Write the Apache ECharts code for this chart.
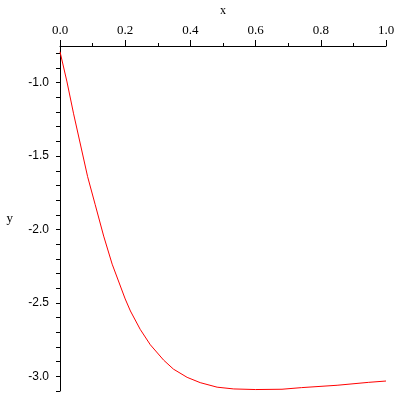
<!DOCTYPE html>
<html><head><meta charset="utf-8">
<script src="https://cdn.jsdelivr.net/npm/echarts@6/dist/echarts.min.js"></script>
<style>html,body{margin:0;padding:0;background:#fff}#c{width:400px;height:400px}</style>
</head><body><div id="c"></div>
<script>
const xValues = [0, 0.0215, 0.0417, 0.0847, 0.108, 0.134, 0.160, 0.200, 0.216, 0.246, 0.277, 0.318, 0.348, 0.390, 0.430, 0.482, 0.533, 0.6, 0.681, 0.741, 0.85, 0.947, 1.0];
const yValues = [-0.789, -0.995, -1.212, -1.640, -1.831, -2.045, -2.236, -2.473, -2.555, -2.680, -2.785, -2.890, -2.951, -3.007, -3.043, -3.074, -3.086, -3.09, -3.088, -3.077, -3.061, -3.041, -3.032];
const xTickLabels = [0, 0.2, 0.4, 0.6, 0.8, 1.0];
const yTickLabels = [-3.0, -2.5, -2.0, -1.5, -1.0];
const yMinorTicks = [-3.1, -3.0, -2.9, -2.8, -2.7, -2.6, -2.5, -2.4, -2.3, -2.2, -2.1, -2.0, -1.9, -1.8, -1.7, -1.6, -1.5, -1.4, -1.3, -1.2, -1.1, -1.0, -0.9, -0.8];

const chart = echarts.init(document.getElementById('c'), null, {renderer: 'canvas'});
chart.setOption({
  animation: false,
  backgroundColor: '#fff',
  grid: {left: 60, right: 14, top: 43, bottom: 9},
  xAxis: {
    type: 'value', position: 'top', min: 0, max: 1, interval: 0.2,
    name: 'x', nameLocation: 'middle', nameGap: 29,
    nameTextStyle: {fontFamily: 'Liberation Serif', fontSize: 12, color: '#000'},
    axisLine: {onZero: false, lineStyle: {color: '#000', width: 1}},
    axisTick: {show: true, length: 6, lineStyle: {color: '#000'}},
    minorTick: {show: true, splitNumber: 2, length: 3, lineStyle: {color: '#000'}},
    splitLine: {show: false},
    axisLabel: {margin: 9, fontFamily: 'Liberation Serif', fontSize: 13, color: '#000',
      customValues: xTickLabels, formatter: v => v.toFixed(1)}
  },
  yAxis: {
    type: 'value', min: -3.1, max: -0.75,
    name: 'y', nameLocation: 'middle', nameGap: 47, nameRotate: 0,
    nameTextStyle: {fontFamily: 'Liberation Serif', fontSize: 13, color: '#000'},
    axisLine: {onZero: false, lineStyle: {color: '#000', width: 1}},
    axisTick: {show: true, length: 4, customValues: yMinorTicks, lineStyle: {color: '#000'}},
    splitLine: {show: false},
    axisLabel: {margin: 11, fontFamily: 'Liberation Sans', fontSize: 12, color: '#000',
      customValues: yTickLabels, formatter: v => v.toFixed(1)}
  },
  series: [{
    type: 'line', showSymbol: false, symbol: 'none', smooth: false,
    lineStyle: {color: '#ff0000', width: 1},
    data: xValues.map((x, i) => [x, yValues[i]])
  }]
});
</script></body></html>
